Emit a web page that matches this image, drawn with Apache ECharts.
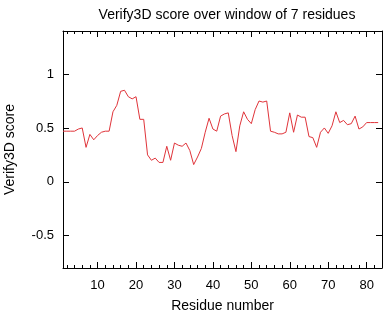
<!DOCTYPE html>
<html>
<head>
<meta charset="utf-8">
<script src="https://cdn.jsdelivr.net/npm/echarts@6/dist/echarts.min.js"></script>
<style>html,body{margin:0;padding:0;background:#fff;}#c{width:392px;height:312px;}</style>
</head>
<body>
<div id="c"></div>
<script>
const titleText = "Verify3D score over window of 7 residues";
const xName = "Residue number";
const yName = "Verify3D score";
const residues = [];
for (let i = 1; i <= 83; i++) residues.push(i);
const scores = [
  0.47, 0.47, 0.47, 0.47, 0.49, 0.50, 0.32, 0.44, 0.39, 0.43,
  0.46, 0.47, 0.47, 0.65, 0.71, 0.84, 0.85, 0.79, 0.77, 0.79,
  0.58, 0.58, 0.25, 0.20, 0.22, 0.18, 0.18, 0.33, 0.20, 0.36,
  0.34, 0.33, 0.36, 0.29, 0.16, 0.23, 0.31, 0.46, 0.59, 0.49,
  0.47, 0.61, 0.63, 0.64, 0.43, 0.28, 0.52, 0.65, 0.58, 0.54,
  0.67, 0.75, 0.74, 0.75, 0.47, 0.46, 0.445, 0.445, 0.46, 0.64,
  0.46, 0.62, 0.60, 0.60, 0.42, 0.41, 0.32, 0.46, 0.50, 0.45,
  0.52, 0.65, 0.55, 0.57, 0.53, 0.54, 0.61, 0.49, 0.51, 0.55,
  0.55, 0.55, 0.55
];
const xMajorTicks = [10, 20, 30, 40, 50, 60, 70, 80];
const xMinorTicks = [2, 4, 6, 8, 12, 14, 16, 18, 22, 24, 26, 28, 32, 34, 36, 38, 42, 44, 46, 48, 52, 54, 56, 58, 62, 64, 66, 68, 72, 74, 76, 78, 82, 84];
const yTicks = [-0.5, 0, 0.5, 1];
const xMin = 1, xMax = 84, yMin = -0.8, yMax = 1.4;

const font = "'Liberation Sans', Arial, Helvetica, sans-serif";
const chart = echarts.init(document.getElementById('c'), null, {renderer: 'canvas'});

function xAx(pos, ticks, len, showLabel, showLine) {
  return {
    type: 'value', position: pos, min: xMin, max: xMax,
    axisLine: {show: showLine, onZero: false, lineStyle: {color: '#000', width: 1}},
    axisTick: {show: true, inside: true, length: len, customValues: ticks, lineStyle: {color: '#000', width: 1}},
    axisLabel: {show: showLabel, customValues: ticks, color: '#000', fontFamily: font, fontSize: 13, margin: 11},
    splitLine: {show: false}
  };
}
function yAx(pos, showLabel) {
  return {
    type: 'value', position: pos, min: yMin, max: yMax,
    axisLine: {show: true, onZero: false, lineStyle: {color: '#000', width: 1}},
    axisTick: {show: true, inside: true, length: 6, customValues: yTicks, lineStyle: {color: '#000', width: 1}},
    axisLabel: {show: showLabel, customValues: yTicks, color: '#000', fontFamily: font, fontSize: 13, margin: 9},
    splitLine: {show: false}
  };
}

const xa0 = xAx('bottom', xMajorTicks, 6, true, true);
xa0.name = xName;
xa0.nameLocation = 'middle';
xa0.nameGap = 31;
xa0.nameTextStyle = {color: '#000', fontFamily: font, fontSize: 14};
const ya0 = yAx('left', true);
ya0.name = yName;
ya0.nameLocation = 'middle';
ya0.nameGap = 46;
ya0.nameTextStyle = {color: '#000', fontFamily: font, fontSize: 14};

chart.setOption({
  animation: false,
  backgroundColor: '#fff',
  title: {
    text: titleText, left: 222, top: 3, textAlign: 'center',
    textStyle: {color: '#000', fontFamily: font, fontSize: 14, fontWeight: 'normal'}
  },
  grid: {left: 63, right: 10, top: 31, bottom: 44, containLabel: false, outerBoundsMode: 'none'},
  xAxis: [
    xa0,
    xAx('bottom', xMinorTicks, 3, false, false),
    xAx('top', xMajorTicks, 6, false, true),
    xAx('top', xMinorTicks, 3, false, false)
  ],
  yAxis: [ya0, yAx('right', false)],
  series: [{
    type: 'line',
    xAxisIndex: 0, yAxisIndex: 0,
    data: residues.map((r, i) => [r, scores[i]]),
    showSymbol: false,
    lineStyle: {color: '#e0343a', width: 1},
    itemStyle: {color: '#e0343a'},
    emphasis: {disabled: true}
  }]
});
</script>
</body>
</html>
